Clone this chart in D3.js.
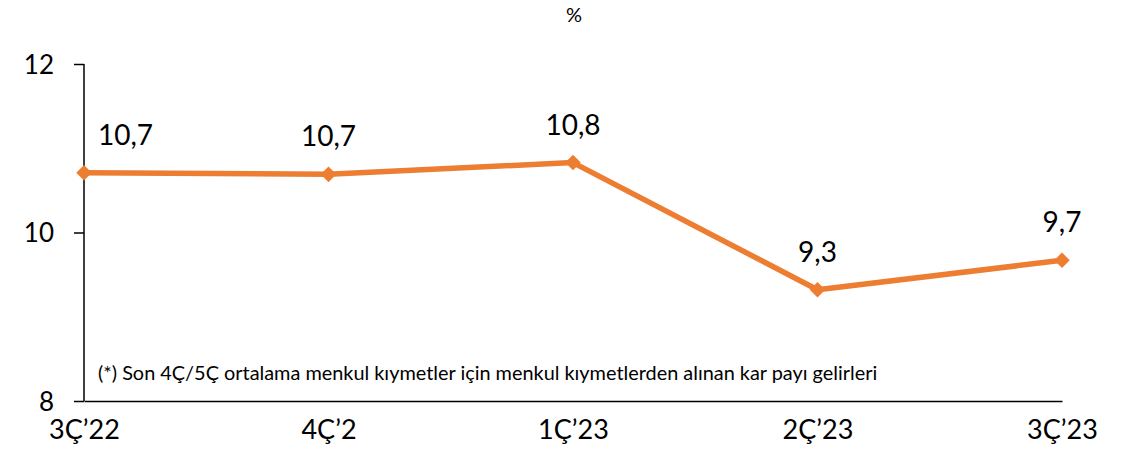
<!DOCTYPE html>
<html>
<head>
<meta charset="utf-8">
<script src="https://cdn.jsdelivr.net/npm/d3@7/dist/d3.min.js"></script>
<style>
  html, body { margin: 0; padding: 0; background: #fff; }
  svg { display: block; font-family: Lato, "Open Sans", sans-serif; }
</style>
</head>
<body>
<svg id="chart" width="1143" height="451"></svg>
<script>
// Quarterly dividend yield on securities, %
const quarters = ["3Ç’22", "4Ç’2", "1Ç’23", "2Ç’23", "3Ç’23"];
const yieldValues = [10.71, 10.69, 10.83, 9.32, 9.67];
const yTicks = [8, 10, 12];
const unitLabel = "%";
const footnote = "(*) Son 4Ç/5Ç ortalama menkul kıymetler için menkul kıymetlerden alınan kar payı gelirleri";

const svg = d3.select("#chart");
const orange = "#ED7D31";
const fontStack = "Lato, 'Open Sans', sans-serif";

const x = d3.scalePoint().domain(quarters).range([84, 1062]);
const y = d3.scaleLinear().domain([8, 12]).range([401, 64]);

const fmt = v => d3.format(".1f")(v).replace(".", ",");

// Unit label
svg.append("text")
  .attr("x", 574).attr("y", 22)
  .attr("text-anchor", "middle")
  .attr("font-size", 20)
  .text(unitLabel);

// Y axis
const yAxis = svg.append("g")
  .attr("transform", "translate(84,0)")
  .call(d3.axisLeft(y).tickValues(yTicks).tickSize(10).tickPadding(20).tickFormat(d3.format("d")));
yAxis.select(".domain").attr("stroke", "#000").attr("stroke-width", 1.5).attr("d", "M0,64V401");
yAxis.selectAll(".tick line").attr("stroke", "#000").attr("stroke-width", 1.5);
yAxis.selectAll(".tick text")
  .attr("font-size", 26).attr("fill", "#000")
  .attr("font-family", fontStack)
  .attr("dy", "0.36em");

// X axis
const xAxis = svg.append("g")
  .attr("transform", "translate(0,401)")
  .call(d3.axisBottom(x).tickSize(0));
xAxis.select(".domain").attr("stroke", "#000").attr("stroke-width", 1.5);
xAxis.selectAll(".tick text")
  .attr("font-size", 27).attr("fill", "#000")
  .attr("font-family", fontStack)
  .attr("y", 38)
  .attr("dy", 0);

// Footnote
const fn = svg.append("text")
  .attr("x", 98).attr("y", 380)
  .attr("font-size", 17)
  .text(footnote);
const fnW = fn.node().getComputedTextLength();
if (fnW > 0) fn.attr("font-size", 17 * 780 / fnW);

// Series line
const line = d3.line()
  .x((d, i) => x(quarters[i]))
  .y(d => y(d));

svg.append("path")
  .datum(yieldValues)
  .attr("fill", "none")
  .attr("stroke", orange)
  .attr("stroke-width", 5.5)
  .attr("stroke-linejoin", "round")
  .attr("d", line);

// Diamond markers
svg.selectAll(".marker")
  .data(yieldValues)
  .enter().append("path")
  .attr("class", "marker")
  .attr("d", d3.symbol().type(d3.symbolSquare).size(121))
  .attr("fill", orange)
  .attr("transform", (d, i) => `translate(${x(quarters[i])},${y(d)}) rotate(45)`);

// Value labels above each point, kept clear of the y axis
svg.selectAll(".vlabel")
  .data(yieldValues)
  .enter().append("text")
  .attr("class", "vlabel")
  .attr("font-size", 28)
  .attr("y", d => y(d) - 28)
  .text(d => fmt(d))
  .each(function (d, i) {
    const w = this.getComputedTextLength();
    const left = Math.max(x(quarters[i]) - w / 2, 98);
    d3.select(this).attr("x", left);
  });
</script>
</body>
</html>
